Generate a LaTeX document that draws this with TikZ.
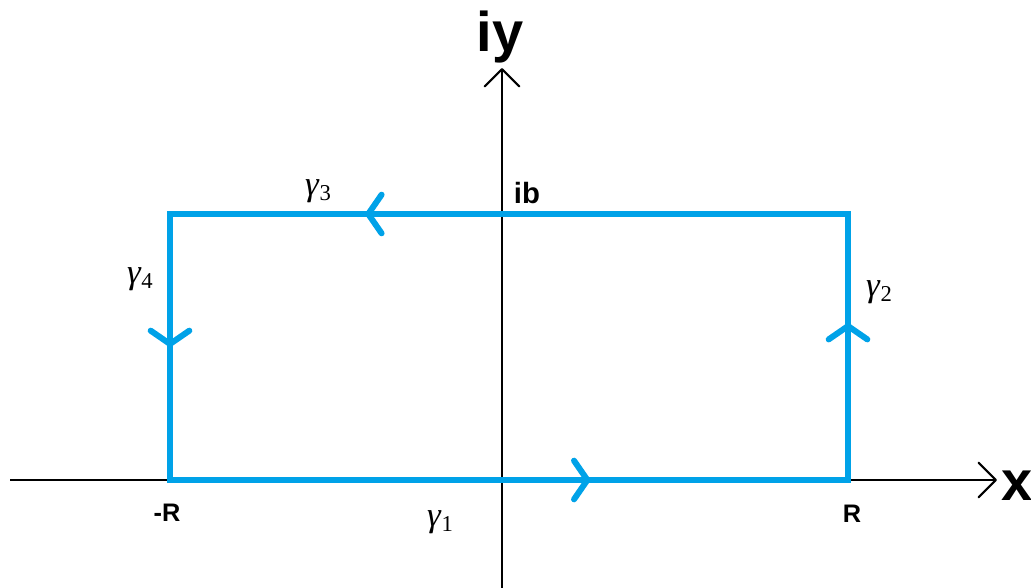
\documentclass[tikz,border=0pt]{standalone}
\usepackage{fontspec}
\setmainfont{Liberation Sans}
\newfontfamily\gfont{Liberation Serif}
\usetikzlibrary{arrows.meta,decorations.markings}
\definecolor{contour}{RGB}{0,162,232}
\newcommand{\gam}[1]{{\fontsize{26}{26}\selectfont\gfont\itshape γ}\kern0.5pt\raisebox{-4pt}{\fontsize{17}{17}\selectfont\gfont #1}}
\tikzset{
  axis/.style={line width=1.6pt, black, -{Straight Barb[length=13pt,width=26pt,line width=1.6pt,round]}},
  path/.style={line width=4.5pt, contour, line cap=rect, line join=miter},
  flowmark/.style={postaction={decorate, decoration={markings,
     mark=at position #1 with {\arrow[contour,line width=4.5pt]{Straight Barb[length=10pt,width=29pt,line width=4.5pt,round]}}}}},
  bigl/.style={font=\fontsize{42}{42}\selectfont\bfseries, inner sep=0pt, anchor=base},
  midl/.style={font=\fontsize{22}{22}\selectfont\bfseries, inner sep=0pt, anchor=base},
  ptl/.style={font=\fontsize{19}{19}\selectfont\bfseries, inner sep=0pt, anchor=base},
  gl/.style={inner sep=0pt},
}
\begin{document}
\begin{tikzpicture}[x=0.75pt,y=-0.75pt]
\useasboundingbox (0,0) rectangle (1031,588);
% axes
\coordinate (xl) at (10,480);
\coordinate (xr) at (997,480);
\coordinate (yb) at (502,588);
\coordinate (yt) at (502,68);
\draw[axis] (xl) -- (xr);
\draw[axis] (yb) -- (yt);
% contour corners
\coordinate (A) at (170,480);
\coordinate (B) at (848,480);
\coordinate (C) at (848,214);
\coordinate (D) at (170,214);
\draw[path, flowmark=0.62] (A) -- (B);
\draw[path, flowmark=0.59] (B) -- (C);
\draw[path, flowmark=0.712] (C) -- (D);
\draw[path, flowmark=0.5] (D) -- (A);
% labels
\node[bigl] (iy) at (500,52) {iy};
\node[bigl] (xlab) at (1017,500) {x};
\node[midl] (ib) at (527,203) {ib};
\node[ptl] (mR) at (167,521) {-R};
\node[ptl] (R) at (852,522) {R};
\node[gl] (g1) at (440,522) {\gam{1}};
\node[gl] (g2) at (879,292) {\gam{2}};
\node[gl] (g3) at (318,191) {\gam{3}};
\node[gl] (g4) at (140,279) {\gam{4}};
\end{tikzpicture}
\end{document}
